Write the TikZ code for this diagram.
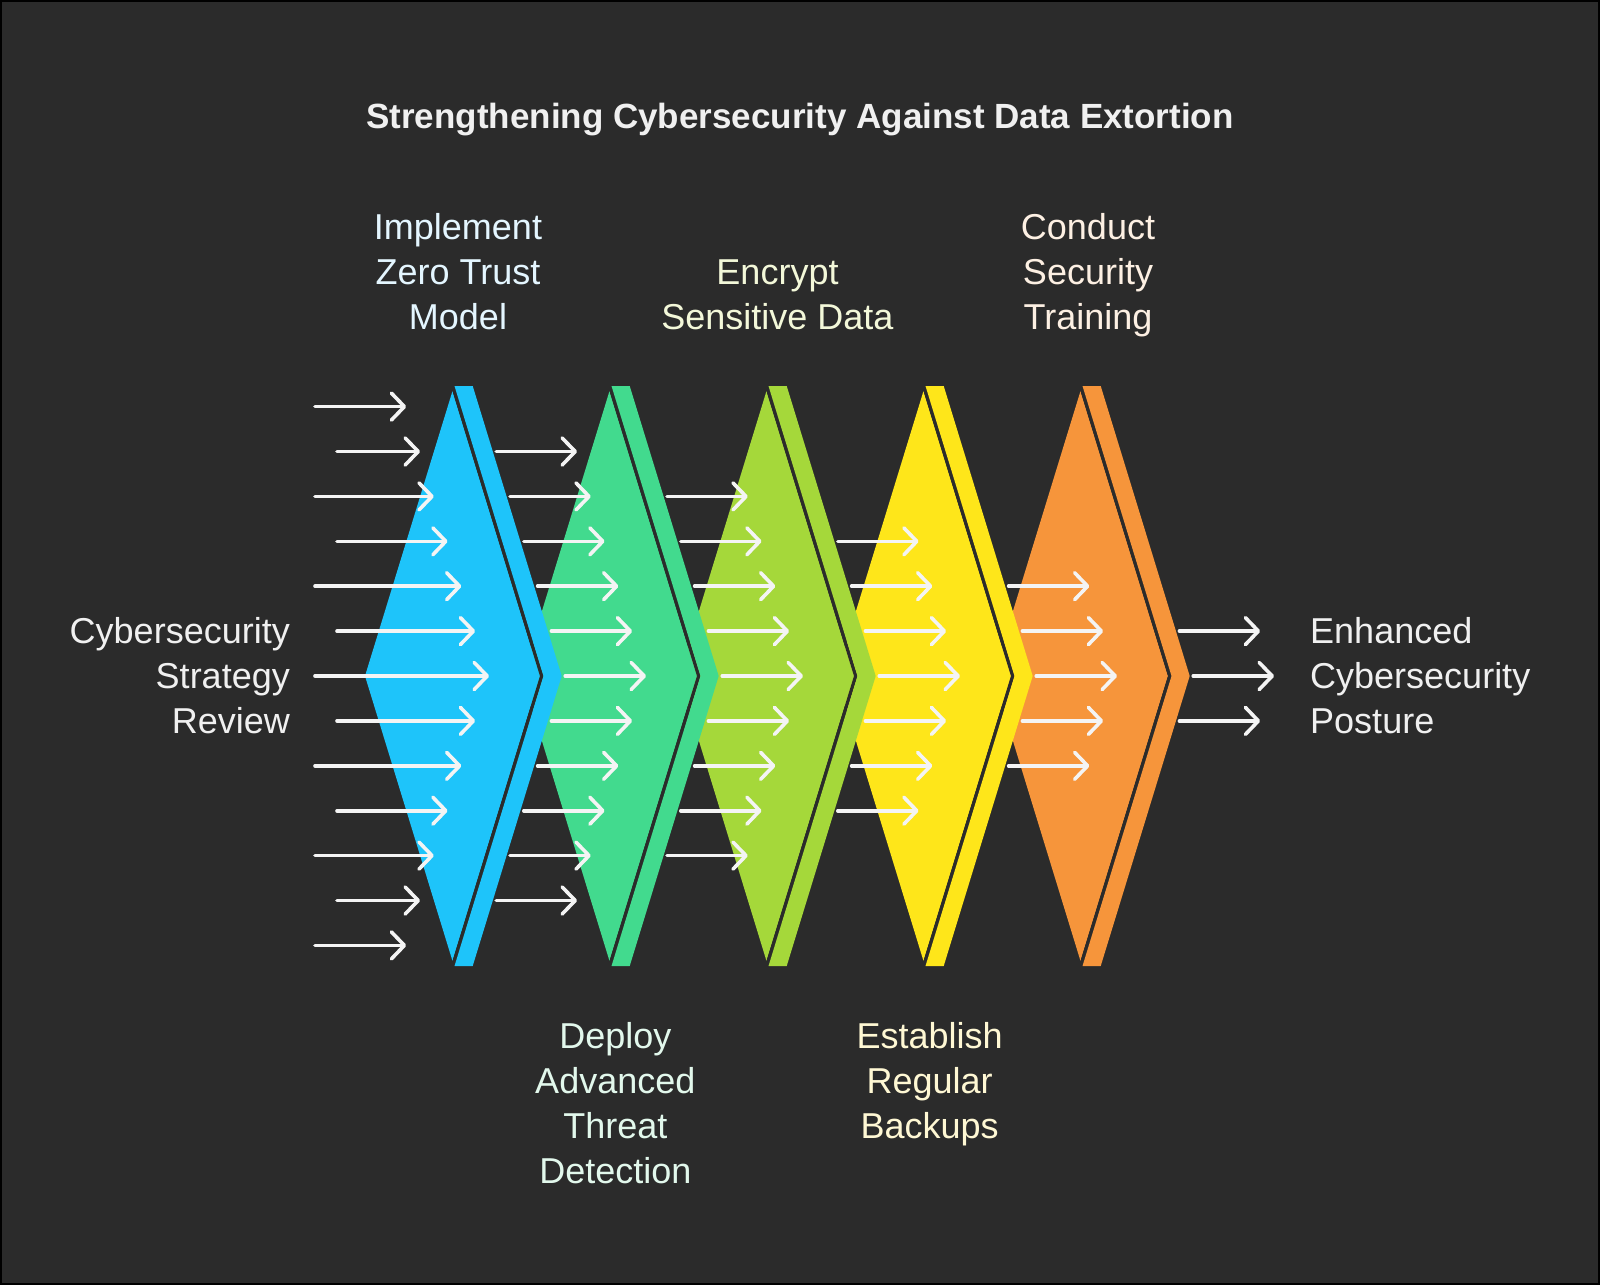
\documentclass[tikz,border=0pt]{standalone}
\usepackage{fontspec}
\setmainfont{Liberation Sans}
\usetikzlibrary{arrows.meta}
\definecolor{bg}{HTML}{2B2B2B}
\definecolor{stBlue}{HTML}{1EC4FA}
\definecolor{stGreen}{HTML}{42DA8E}
\definecolor{stLime}{HTML}{A5D83A}
\definecolor{stYellow}{HTML}{FEE61A}
\definecolor{stOrange}{HTML}{F6953B}
\definecolor{arrowc}{HTML}{F4F4F4}
\definecolor{lblBlue}{HTML}{E4F6FF}
\definecolor{lblGreen}{HTML}{E2F8EC}
\definecolor{lblLime}{HTML}{F3F8D9}
\definecolor{lblYellow}{HTML}{FFF8D4}
\definecolor{lblOrange}{HTML}{FDF0E3}
\definecolor{lblWhite}{HTML}{F0F0F0}
\begin{document}
\begin{tikzpicture}[x=1pt,y=-1pt,
  lbl/.style={font=\fontsize{36}{44.9}\selectfont, inner sep=0pt},
  flow/.style={draw=arrowc, line width=3.6pt, line cap=round,
    -{Straight Barb[round,length=13pt,width=27pt]}},
  gapline/.style={draw=bg, line width=3.4pt}]
\useasboundingbox (0,0) rectangle (1600,1285);
\fill[black] (0,0) rectangle (1600,1285);
\fill[bg] (2,2) rectangle (1598,1283);

% stages (drawn right to left so earlier ones lie on top)
\foreach \i/\col in {4/stOrange,3/stYellow,2/stLime,1/stGreen,0/stBlue} {
  \pgfmathsetmacro\cx{452.5+157*\i}
  \fill[\col] (\cx,391) -- ({\cx+87.5},676) -- (\cx,961) -- ({\cx-87.5},676) -- cycle;
  \draw[gapline] ({\cx+0.2},386) -- ({\cx+89.25},676) -- ({\cx+0.2},966);
  \fill[\col] ({\cx+2},386) -- ({\cx+20.2},386) -- ({\cx+109.2},676) -- ({\cx+20.2},966)
     -- ({\cx+2},966) -- ({\cx+91},676) -- cycle;
}

% input arrows (column 0)
\foreach \k in {0,...,12} {
  \pgfmathsetmacro\yy{676+44.9*(\k-6)}
  \pgfmathsetmacro\xs{ifthenelse(mod(\k,2)==0,315,337)}
  \pgfmathsetmacro\xe{452.5+36.5-13.8*abs(\k-6)}
  \draw[flow] (\xs,\yy) -- (\xe,\yy);
}
% arrows between and after stages
\foreach \c in {1,...,5} {
  \pgfmathtruncatemacro\kmin{\c}
  \pgfmathtruncatemacro\kmax{12-\c}
  \foreach \k in {\kmin,...,\kmax} {
    \pgfmathsetmacro\yy{676+44.9*(\k-6)}
    \pgfmathsetmacro\dd{13.8*abs(\k-6)}
    \pgfmathsetmacro\xs{452.5+157*(\c-1)+112.7-\dd}
    \pgfmathsetmacro\xe{452.5+157*\c+36.5-\dd}
    \draw[flow] (\xs,\yy) -- (\xe,\yy);
  }
}

% title
\node[font=\fontsize{35}{42}\selectfont\bfseries, text=lblWhite, anchor=base, inner sep=0pt]
  (title) at (800,128) {Strengthening Cybersecurity Against Data Extortion};

% labels
\node[lbl, text=lblWhite, align=right, anchor=east] (input) at (290,679.4)
  {\strut Cybersecurity\\\strut Strategy\\\strut Review};
\node[lbl, text=lblWhite, align=left, anchor=west] (output) at (1310,679.4)
  {\strut Enhanced\\\strut Cybersecurity\\\strut Posture};
\node[lbl, text=lblBlue, align=center] (s1) at (458,275.3)
  {\strut Implement\\\strut Zero Trust\\\strut Model};
\node[lbl, text=lblGreen, align=center] (s2) at (615.3,1107)
  {\strut Deploy\\\strut Advanced\\\strut Threat\\\strut Detection};
\node[lbl, text=lblLime, align=center] (s3) at (777.5,297.7)
  {\strut Encrypt\\\strut Sensitive Data};
\node[lbl, text=lblYellow, align=center] (s4) at (929.6,1084.5)
  {\strut Establish\\\strut Regular\\\strut Backups};
\node[lbl, text=lblOrange, align=center] (s5) at (1088,275.3)
  {\strut Conduct\\\strut Security\\\strut Training};
\end{tikzpicture}
\end{document}
